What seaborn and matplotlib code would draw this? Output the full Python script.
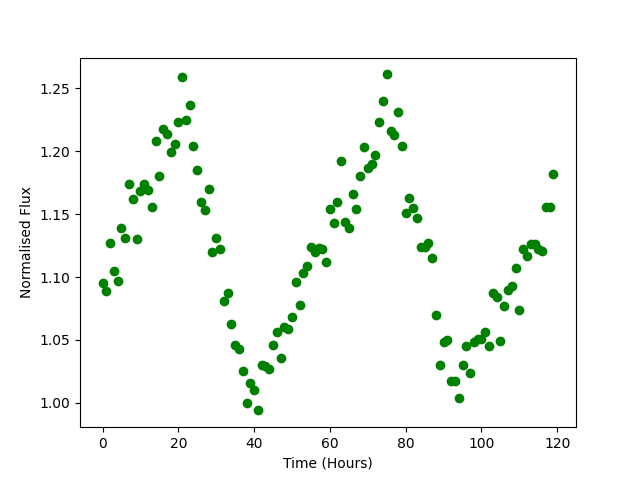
import numpy as np
import matplotlib
matplotlib.use('Agg')
import matplotlib.pyplot as plt
import seaborn as sns

# Time in hours, one sample per hour
hours = np.arange(0, 120)

# Normalised flux
flux = [
    1.095, 1.089, 1.127, 1.105, 1.097, 1.139, 1.131, 1.174, 1.162, 1.130,
    1.168, 1.174, 1.169, 1.156, 1.208, 1.180, 1.218, 1.214, 1.199, 1.206,
    1.223, 1.259, 1.225, 1.237, 1.204, 1.185, 1.160, 1.153, 1.170, 1.120,
    1.131, 1.122, 1.081, 1.087, 1.063, 1.046, 1.043, 1.025, 1.000, 1.016,
    1.010, 0.994, 1.030, 1.029, 1.027, 1.046, 1.056, 1.036, 1.060, 1.059,
    1.068, 1.096, 1.078, 1.103, 1.109, 1.124, 1.120, 1.123, 1.122, 1.112,
    1.154, 1.143, 1.160, 1.192, 1.144, 1.139, 1.166, 1.154, 1.180, 1.203,
    1.187, 1.190, 1.197, 1.223, 1.240, 1.261, 1.216, 1.213, 1.231, 1.204,
    1.151, 1.163, 1.155, 1.147, 1.124, 1.124, 1.127, 1.115, 1.070, 1.030,
    1.048, 1.050, 1.017, 1.017, 1.004, 1.030, 1.045, 1.024, 1.048, 1.051,
    1.051, 1.056, 1.045, 1.087, 1.084, 1.049, 1.077, 1.090, 1.093, 1.107,
    1.074, 1.122, 1.117, 1.126, 1.126, 1.122, 1.121, 1.156, 1.156, 1.182,
]

fig, ax = plt.subplots(figsize=(6.4, 4.8), dpi=100)
sns.scatterplot(x=hours, y=flux, color='green', edgecolor='green',
                s=36, linewidth=1, ax=ax)
ax.set_xlabel('Time (Hours)')
ax.set_ylabel('Normalised Flux')
fig.savefig('out.png', dpi=100)
